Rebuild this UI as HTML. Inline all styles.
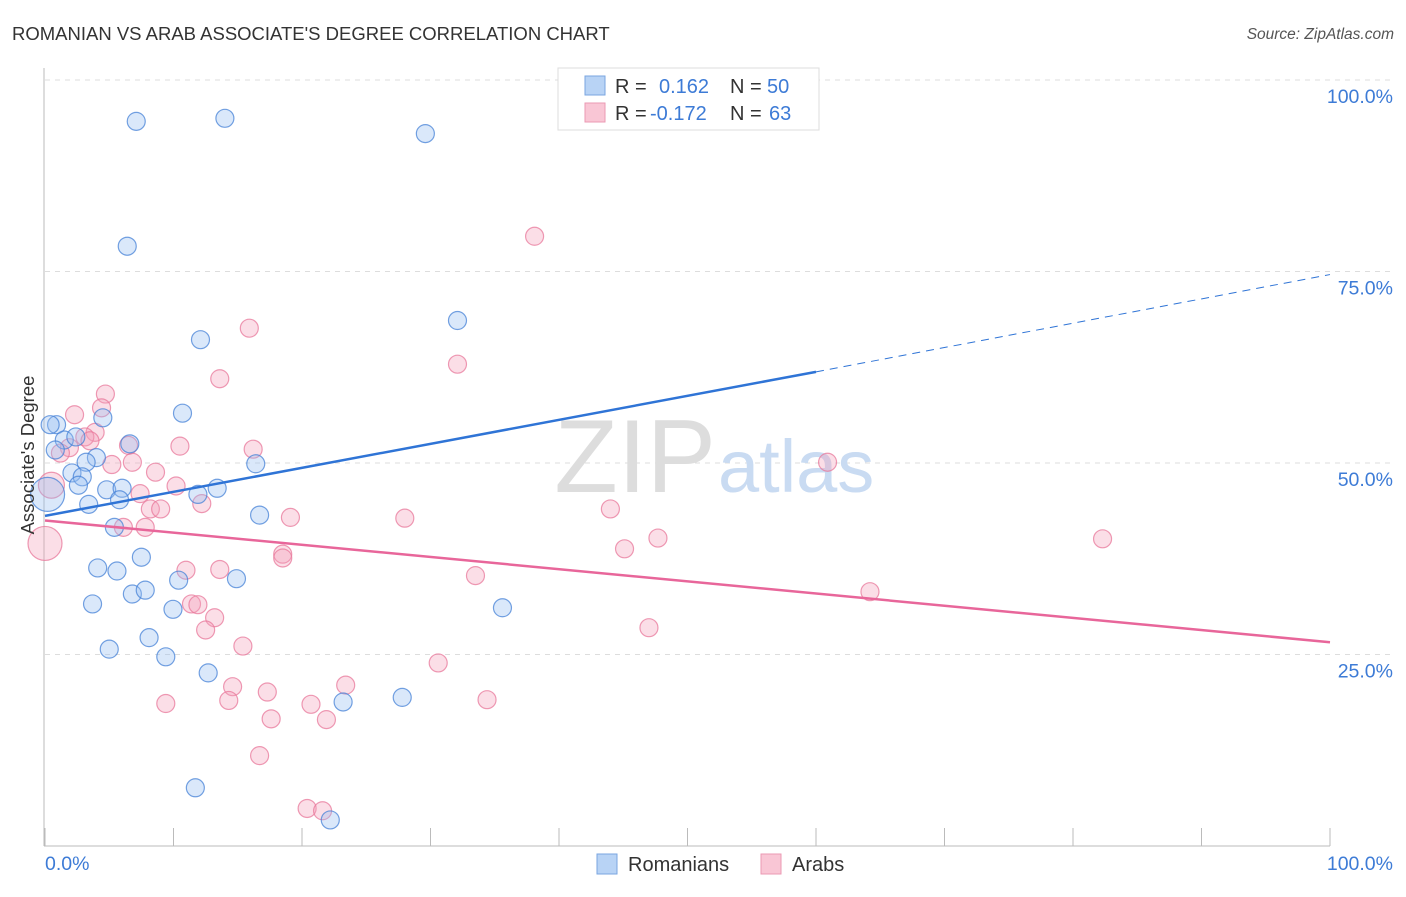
<!DOCTYPE html>
<html><head><meta charset="utf-8"><style>
body{margin:0;background:#fff;font-family:"Liberation Sans",sans-serif;}
svg text{font-family:"Liberation Sans",sans-serif;}
</style></head><body>
<svg id="c" width="1406" height="892" xmlns="http://www.w3.org/2000/svg">
<text x="12" y="40" font-size="18.5" fill="#333">ROMANIAN VS ARAB ASSOCIATE'S DEGREE CORRELATION CHART</text>
<text x="1394" y="39" font-size="15.5" fill="#555" font-style="italic" text-anchor="end">Source: ZipAtlas.com</text>
<g id="grid"></g>
<text x="716" y="492" font-size="104" fill="#ddd" text-anchor="end" font-family="Liberation Serif">ZIP</text>
<text x="718" y="492" font-size="74" fill="#c9dbf2">atlas</text>
<g id="pts"></g>
<g id="lines"></g>
<text transform="translate(34,455) rotate(-90)" font-size="18.5" fill="#333" text-anchor="middle">Associate's Degree</text>
<text x="45" y="870" font-size="19.5" fill="#3d7bd6">0.0%</text>
<text x="1393" y="870" font-size="19.5" fill="#3d7bd6" text-anchor="end">100.0%</text>
<g>
<rect x="558" y="68" width="261" height="62" fill="#fff" stroke="#ddd"/>
<rect x="585" y="76" width="20" height="19" fill="#b8d3f5" stroke="#7aa6e0"/>
<rect x="585" y="103" width="20" height="19" fill="#f9c6d5" stroke="#eb99b3"/>
<text x="615" y="93" font-size="20" fill="#333">R = </text><text x="659" y="93" font-size="20" fill="#3d7bd6">0.162</text>
<text x="730" y="93" font-size="20" fill="#333">N = </text><text x="767" y="93" font-size="20" fill="#3d7bd6">50</text>
<text x="615" y="120" font-size="20" fill="#333">R = </text><text x="650" y="120" font-size="20" fill="#3d7bd6">-0.172</text>
<text x="730" y="120" font-size="20" fill="#333">N = </text><text x="769" y="120" font-size="20" fill="#3d7bd6">63</text>
</g>
<g>
<rect x="597" y="854" width="20" height="20" fill="#b8d3f5" stroke="#7aa6e0"/>
<text x="628" y="871" font-size="20" fill="#333">Romanians</text>
<rect x="761" y="854" width="20" height="20" fill="#f9c6d5" stroke="#eb99b3"/>
<text x="792" y="871" font-size="20" fill="#333">Arabs</text>
</g>
</svg>
<script>
const yTicks=[25,50,75,100];
const xTicks=[0,10,20,30,40,50,60,70,80,90,100];
const romX=[7.1,14.0,29.6,6.4,12.1,32.1,10.7,4.5,0.9,6.6,1.5,2.4,4.0,3.2,2.1,2.9,2.6,4.8,6.0,11.9,13.4,5.8,3.4,16.4,16.7,5.4,7.5,4.1,5.6,14.9,10.4,6.8,7.8,3.7,9.96,35.6,8.1,5.0,9.4,12.7,27.8,23.2,11.7,22.2,0.2,0.8,54.1,0.4];
const romY=[94.6,95.0,93.0,78.3,66.1,68.6,56.5,55.9,55.0,52.5,53.0,53.4,50.7,50.1,48.7,48.2,47.1,46.5,46.7,45.9,46.7,45.2,44.6,49.9,43.2,41.6,37.7,36.3,35.9,34.9,34.7,32.9,33.4,31.6,30.9,31.1,27.2,25.7,24.7,22.6,19.4,18.8,7.6,3.4,45.9,51.7,100,55.0];
const romR=[9,9,9,9,9,9,9,9,9,9,9,9,9,9,9,9,9,9,9,9,9,9,9,9,9,9,9,9,9,9,9,9,9,9,9,9,9,9,9,9,9,9,9,9,17,9,9,9];
const arbX=[38.1,15.9,32.1,13.6,4.7,4.4,2.3,3.9,3.1,6.5,10.5,16.2,6.8,5.2,8.6,10.2,7.4,12.2,8.2,9.0,7.8,6.1,19.1,28.0,44.0,47.7,45.1,82.3,60.9,18.5,18.5,13.6,10.97,33.5,64.2,11.4,11.9,13.2,12.5,47.0,15.4,30.6,23.4,14.6,17.3,9.4,14.3,20.7,34.4,17.6,21.9,16.7,20.4,21.6,0,0.5,1.9,3.5,1.2];
const arbY=[79.6,67.6,62.9,61.0,59.0,57.2,56.3,54.0,53.4,52.3,52.2,51.8,50.1,49.8,48.8,47.0,46.0,44.7,44.0,44.0,41.6,41.6,42.9,42.8,44.0,40.2,38.8,40.1,50.1,38.1,37.6,36.1,36.0,35.3,33.2,31.6,31.5,29.8,28.2,28.5,26.1,23.9,21.0,20.8,20.1,18.6,19.0,18.5,19.1,16.6,16.5,11.8,4.9,4.6,39.5,47.1,52.0,52.9,51.3];
const arbR=[9,9,9,9,9,9,9,9,9,9,9,9,9,9,9,9,9,9,9,9,9,9,9,9,9,9,9,9,9,9,9,9,9,9,9,9,9,9,9,9,9,9,9,9,9,9,9,9,9,9,9,9,9,9,17,13,9,9,9];
const romTrend=[0,43.1,60,61.9,100,74.6];
const arbTrend=[0,42.5,100,26.6];
const X=v=>45+v*12.85, Y=v=>846-v*7.66;
const NS="http://www.w3.org/2000/svg";
function mk(t,a,p){const e=document.createElementNS(NS,t);for(const k in a)e.setAttribute(k,a[k]);p.appendChild(e);return e;}
const g=document.getElementById('grid');
const ax=mk('line',{x1:44,y1:68,x2:44,y2:846,stroke:'#bbb'},g);


const bx=mk('line',{x1:44,y1:846,x2:1330,y2:846,stroke:'#bbb'},g);


yTicks.forEach(t=>{
 const l=mk('line',{x1:45,x2:1394,y1:Y(t),y2:Y(t),stroke:'#ddd','stroke-dasharray':'5,5'},g);
 
 
 const tx=mk('text',{x:1393,y:Y(t)+23,'font-size':19.5,fill:'#3d7bd6','text-anchor':'end'},g);
 tx.textContent=t.toFixed(1)+'%';
 
 
});
xTicks.forEach(t=>{
 const l=mk('line',{x1:X(t),x2:X(t),y1:828,y2:846,stroke:'#bbb'},g);
 
 
});
const p=document.getElementById('pts');
arbX.forEach((v,i)=>{
 const c=mk('circle',{cx:X(v),cy:Y(arbY[i]),r:arbR[i],fill:'rgba(244,160,187,0.35)',stroke:'rgba(232,120,155,0.75)','stroke-width':1.2},p);
 
 
});
romX.forEach((v,i)=>{
 const c=mk('circle',{cx:X(v),cy:Y(romY[i]),r:romR[i],fill:'rgba(150,190,240,0.35)',stroke:'rgba(70,130,215,0.75)','stroke-width':1.2},p);
 
 
});
const L=document.getElementById('lines');
const l1=mk('line',{x1:X(romTrend[0]),y1:Y(romTrend[1]),x2:X(romTrend[2]),y2:Y(romTrend[3]),stroke:'#2f74d6','stroke-width':2.5},L);


const l2=mk('line',{x1:X(romTrend[2]),y1:Y(romTrend[3]),x2:X(romTrend[4]),y2:Y(romTrend[5]),stroke:'#2f74d6','stroke-width':1,'stroke-dasharray':'8,6'},L);


const l3=mk('line',{x1:X(arbTrend[0]),y1:Y(arbTrend[1]),x2:X(arbTrend[2]),y2:Y(arbTrend[3]),stroke:'#e8669a','stroke-width':2.5},L);


</script>
</body></html>
